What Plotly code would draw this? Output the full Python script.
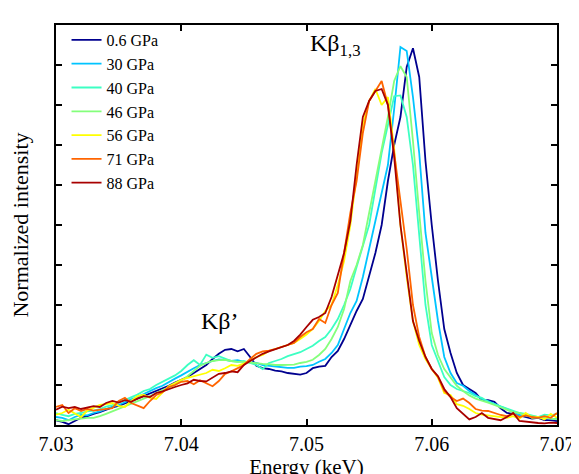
import numpy as np
import plotly.graph_objects as go

energy = [round(7.030 + 0.0005 * i, 4) for i in range(81)]

labels = ["0.6 GPa", "30 GPa", "40 GPa", "46 GPa", "56 GPa", "71 GPa", "88 GPa"]
colors = ["#00008F", "#00C4FF", "#3CFFC3", "#84FF7B", "#FFFF00", "#FF6400", "#A80000"]

p006 = [0.012, 0.008, 0.002, 0.010, 0.018, 0.022, 0.028, 0.032, 0.038, 0.044,
        0.048, 0.055, 0.060, 0.066, 0.072, 0.078, 0.084, 0.090, 0.098, 0.106,
        0.112, 0.120, 0.130, 0.140, 0.150, 0.165, 0.178, 0.188, 0.190, 0.184,
        0.190, 0.170, 0.148, 0.142, 0.140, 0.136, 0.134, 0.130, 0.128, 0.126,
        0.130, 0.142, 0.146, 0.148, 0.170, 0.185, 0.215, 0.250, 0.285, 0.315,
        0.370, 0.430, 0.500, 0.610, 0.700, 0.770, 0.895, 0.942, 0.870, 0.660,
        0.500, 0.360, 0.240, 0.180, 0.130, 0.100, 0.090, 0.080, 0.062, 0.062,
        0.058, 0.042, 0.030, 0.028, 0.024, 0.020, 0.016, 0.018, 0.012, 0.012,
        0.010]
p30 = [0.020, 0.018, 0.012, 0.020, 0.025, 0.024, 0.030, 0.034, 0.040, 0.046,
       0.050, 0.058, 0.064, 0.070, 0.078, 0.084, 0.092, 0.098, 0.108, 0.116,
       0.124, 0.134, 0.142, 0.150, 0.156, 0.160, 0.164, 0.163, 0.160, 0.162,
       0.158, 0.156, 0.155, 0.150, 0.148, 0.146, 0.144, 0.143, 0.143, 0.146,
       0.147, 0.150, 0.158, 0.165, 0.180, 0.200, 0.240, 0.280, 0.310, 0.370,
       0.440, 0.510, 0.580, 0.650, 0.790, 0.945, 0.935, 0.820, 0.680, 0.480,
       0.370, 0.260, 0.170, 0.130, 0.105, 0.098, 0.085, 0.075, 0.065, 0.060,
       0.052, 0.046, 0.040, 0.032, 0.024, 0.024, 0.020, 0.018, 0.018, 0.016,
       0.015]
p40 = [0.030, 0.025, 0.022, 0.028, 0.030, 0.034, 0.036, 0.040, 0.046, 0.050,
       0.056, 0.062, 0.070, 0.076, 0.085, 0.090, 0.100, 0.108, 0.118, 0.124,
       0.135, 0.150, 0.162, 0.150, 0.176, 0.168, 0.172, 0.165, 0.160, 0.158,
       0.160, 0.155, 0.150, 0.140, 0.155, 0.160, 0.165, 0.172, 0.178, 0.182,
       0.190, 0.198, 0.210, 0.220, 0.240, 0.265, 0.300, 0.340, 0.395, 0.450,
       0.500, 0.590, 0.680, 0.750, 0.822, 0.824, 0.770, 0.650, 0.480, 0.300,
       0.200, 0.160, 0.120, 0.100, 0.090, 0.085, 0.080, 0.072, 0.068, 0.058,
       0.052, 0.048, 0.042, 0.036, 0.030, 0.028, 0.024, 0.020, 0.026, 0.024,
       0.028]
p46 = [0.012, 0.010, 0.012, 0.014, 0.016, 0.018, 0.018, 0.022, 0.028, 0.034,
       0.040, 0.046, 0.052, 0.058, 0.064, 0.072, 0.080, 0.088, 0.094, 0.100,
       0.110, 0.122, 0.135, 0.148, 0.155, 0.160, 0.162, 0.163, 0.160, 0.158,
       0.158, 0.156, 0.155, 0.153, 0.152, 0.150, 0.150, 0.150, 0.151, 0.155,
       0.158, 0.163, 0.175, 0.190, 0.215, 0.245, 0.290, 0.360, 0.400, 0.450,
       0.530, 0.610, 0.690, 0.770, 0.860, 0.897, 0.870, 0.710, 0.530, 0.360,
       0.230, 0.175, 0.140, 0.120, 0.098, 0.085, 0.074, 0.066, 0.060, 0.056,
       0.050, 0.044, 0.036, 0.032, 0.030, 0.024, 0.022, 0.020, 0.018, 0.016,
       0.014]
p56 = [0.026, 0.030, 0.038, 0.030, 0.020, 0.036, 0.042, 0.050, 0.052, 0.055,
       0.048, 0.045, 0.060, 0.072, 0.076, 0.068, 0.065, 0.082, 0.097, 0.105,
       0.113, 0.118, 0.122, 0.126, 0.130, 0.138, 0.135, 0.142, 0.150, 0.148,
       0.155, 0.160, 0.170, 0.175, 0.185, 0.190, 0.195, 0.200, 0.205, 0.215,
       0.226, 0.240, 0.260, 0.285, 0.300, 0.350, 0.410, 0.500, 0.630, 0.750,
       0.810, 0.840, 0.800, 0.820, 0.690, 0.500, 0.370, 0.260, 0.200, 0.165,
       0.140, 0.118, 0.080, 0.075, 0.052, 0.048, 0.040, 0.030, 0.026, 0.024,
       0.022, 0.020, 0.018, 0.022, 0.016, 0.030, 0.018, 0.020, 0.014, 0.028,
       0.018]
p71 = [0.045, 0.050, 0.030, 0.042, 0.035, 0.040, 0.036, 0.038, 0.040, 0.042,
       0.060, 0.068, 0.055, 0.048, 0.042, 0.060, 0.075, 0.082, 0.095, 0.100,
       0.108, 0.110, 0.102, 0.112, 0.105, 0.097, 0.110, 0.128, 0.134, 0.142,
       0.150, 0.165, 0.178, 0.184, 0.186, 0.190, 0.196, 0.200, 0.205, 0.220,
       0.232, 0.240, 0.265, 0.255, 0.300, 0.330, 0.430, 0.530, 0.610, 0.730,
       0.810, 0.835, 0.860, 0.800, 0.680, 0.560, 0.440, 0.300, 0.220, 0.170,
       0.140, 0.120, 0.085, 0.070, 0.060, 0.066, 0.055, 0.040, 0.036, 0.035,
       0.030, 0.025, 0.022, 0.028, 0.020, 0.024, 0.020, 0.018, 0.022, 0.018,
       0.030]
p88 = [0.038, 0.046, 0.042, 0.045, 0.040, 0.044, 0.047, 0.045, 0.055, 0.060,
       0.056, 0.062, 0.058, 0.066, 0.072, 0.070, 0.080, 0.084, 0.090, 0.095,
       0.100, 0.104, 0.113, 0.110, 0.109, 0.118, 0.128, 0.130, 0.134, 0.132,
       0.150, 0.160, 0.170, 0.178, 0.184, 0.190, 0.195, 0.200, 0.210, 0.226,
       0.245, 0.263, 0.270, 0.280, 0.320, 0.376, 0.430, 0.510, 0.650, 0.770,
       0.810, 0.835, 0.840, 0.800, 0.670, 0.500, 0.380, 0.260, 0.210, 0.170,
       0.140, 0.122, 0.090, 0.070, 0.042, 0.028, 0.014, 0.020, 0.030, 0.018,
       0.015, 0.012, 0.020, 0.030, 0.010, 0.008, 0.006, 0.005, 0.004, 0.006,
       0.005]

series = [p006, p30, p40, p46, p56, p71, p88]

xticks = [7.03, 7.04, 7.05, 7.06, 7.07]
xtick_text = ["7.03", "7.04", "7.05", "7.06", "7.07"]

FONT = "Times New Roman, Liberation Serif, DejaVu Serif, serif"

fig = go.Figure()
for lab, col, ys in zip(labels, colors, series):
    fig.add_trace(go.Scatter(x=energy, y=ys, mode="lines", name=lab,
                             line=dict(color=col, width=1.8)))

axis_common = dict(showline=True, linecolor="black", linewidth=2, mirror="ticks",
                   ticks="inside", ticklen=6, tickwidth=1.5, tickcolor="black",
                   showgrid=False, zeroline=False)

fig.update_layout(
    width=579, height=474,
    margin=dict(l=48, r=19, t=17, b=57),
    paper_bgcolor="white", plot_bgcolor="white",
    font=dict(family=FONT, color="black"),
    showlegend=True,
    legend=dict(x=0.021, y=1.005, xanchor="left", yanchor="top",
                bgcolor="rgba(0,0,0,0)", font=dict(family=FONT, size=16),
                itemwidth=30),
    xaxis=dict(range=[7.03, 7.07], tickvals=xticks, ticktext=xtick_text,
               tickfont=dict(family=FONT, size=20),
               title=dict(text="Energy (keV)", font=dict(family=FONT, size=21), standoff=0),
               **axis_common),
    yaxis=dict(range=[0, 1], dtick=0.1, showticklabels=False,
               title=dict(text="Normalized intensity", font=dict(family=FONT, size=22), standoff=20),
               **axis_common),
    annotations=[
        dict(x=7.0523, y=0.95, xref="x", yref="y", text="Kβ<sub>1,3</sub>",
             showarrow=False, font=dict(family=FONT, size=24), xanchor="center"),
        dict(x=7.0431, y=0.26, xref="x", yref="y", text="Kβ’",
             showarrow=False, font=dict(family=FONT, size=24), xanchor="center"),
    ],
)

fig.write_html("out.html")
